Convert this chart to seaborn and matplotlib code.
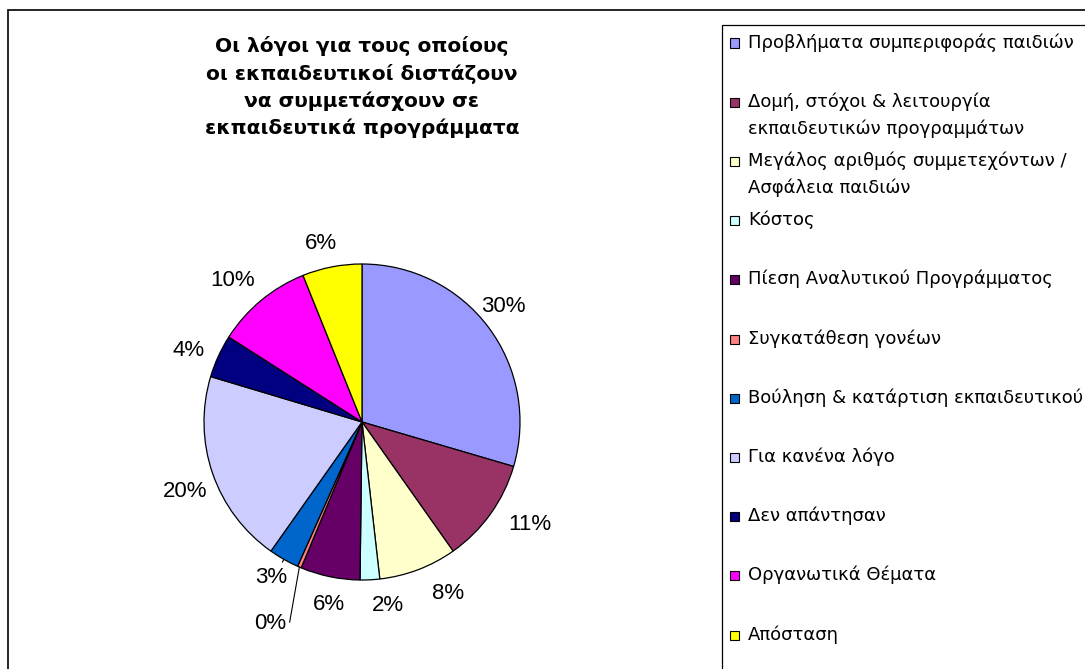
import numpy as np
import seaborn as sns
import matplotlib.pyplot as plt
from matplotlib.patches import Rectangle

# data
categories = ['Προβλήματα συμπεριφοράς παιδιών',
              'Δομή, στόχοι & λειτουργία\nεκπαιδευτικών προγραμμάτων',
              'Μεγάλος αριθμός συμμετεχόντων /\nΑσφάλεια παιδιών',
              'Κόστος',
              'Πίεση Αναλυτικού Προγράμματος',
              'Συγκατάθεση γονέων',
              'Βούληση & κατάρτιση εκπαιδευτικού',
              'Για κανένα λόγο',
              'Δεν απάντησαν',
              'Οργανωτικά Θέματα',
              'Απόσταση']
values = [29.6, 10.7, 8.0, 2.0, 6.1, 0.4, 3.1, 19.9, 4.4, 9.9, 6.1]
colors = ['#9999FF', '#993366', '#FFFFCC', '#CCFFFF', '#660066', '#FF8080',
          '#0066CC', '#CCCCFF', '#000080', '#FF00FF', '#FFFF00']
title = 'Οι λόγοι για τους οποίους\nοι εκπαιδευτικοί διστάζουν\nνα συμμετάσχουν σε\nεκπαιδευτικά προγράμματα'

sns.set_theme(style='white')
plt.rcParams['font.family'] = ['Liberation Sans', 'DejaVu Sans']
plt.rcParams['text.color'] = 'black'

W, H = 1085, 669
fig = plt.figure(figsize=(W / 100, H / 100), dpi=100)
fig.patch.set_facecolor('white')


def fx(x):
    return x / W


def fy(y):
    return 1 - y / H


# outer chart frame and legend frame (run off the picture like the original)
fig.patches.append(Rectangle((fx(8), fy(700)), fx(1100) - fx(8), fy(10) - fy(700),
                             transform=fig.transFigure, fill=False, ec='black', lw=1.2))
fig.patches.append(Rectangle((fx(722), fy(700)), fx(1100) - fx(722), fy(25) - fy(700),
                             transform=fig.transFigure, fill=False, ec='black', lw=0.9))

# pie axes: centre (362, 422), radius 158 px
cx, cy, R = 362, 422, 158
half = 215
ax = fig.add_axes([fx(cx - half), fy(cy + half), 2 * half / W, 2 * half / H])

pal = sns.color_palette(colors)
wedges, _ = ax.pie(values, colors=pal, startangle=90, counterclock=False,
                   wedgeprops=dict(edgecolor='black', linewidth=0.9))
lim = half / R
ax.set_xlim(-lim, lim)
ax.set_ylim(-lim, lim)
ax.axis('off')

total = sum(values)
pcts = ['{:.0f}%'.format(v / total * 100) for v in values]
# small nudges (pixels) so labels sit where Excel put them
nudge = [(-9, 3), (15, 7), (19, 4), (17, 4), (5, 2), (-5, 0), (-3, 0),
         (1, -8), (-2, -7), (-9, -3), (-5, -6)]
start = 0.0
leader = {5: (1.39, 80), 6: (1.13, 62)}
for i, v in enumerate(values):
    mid = (start + v / 2) / total * 2 * np.pi
    start += v
    dx, dy = nudge[i][0] / R, nudge[i][1] / R
    if i in leader:
        r, angB = leader[i]
        ax.annotate(pcts[i], xy=(np.sin(mid), np.cos(mid)),
                    xytext=(r * np.sin(mid) + dx, r * np.cos(mid) + dy),
                    ha='center', va='center', fontsize=16,
                    arrowprops=dict(arrowstyle='-', color='black', lw=0.8,
                                    connectionstyle='angle,angleA=0,angleB=%d,rad=0' % angB,
                                    shrinkA=1, shrinkB=0))
    else:
        r = 1.19
        ax.text(r * np.sin(mid) + dx, r * np.cos(mid) + dy, pcts[i],
                ha='center', va='center', fontsize=16)

fig.text(fx(362), fy(87), title, ha='center', va='center', fontsize=14.5,
         fontweight='bold', family='DejaVu Sans', linespacing=1.48)

# legend
step = 59.2
for i, lab in enumerate(categories):
    y = 43 + i * step
    fig.patches.append(Rectangle((fx(730), fy(y + 4.5)), 9 / W, 9 / H,
                                 transform=fig.transFigure, fc=colors[i],
                                 ec='black', lw=0.8))
    fig.text(fx(748), fy(y - 10), lab, ha='left', va='top', fontsize=13,
             family='DejaVu Sans', linespacing=1.58)

fig.savefig('out.png', dpi=100)
